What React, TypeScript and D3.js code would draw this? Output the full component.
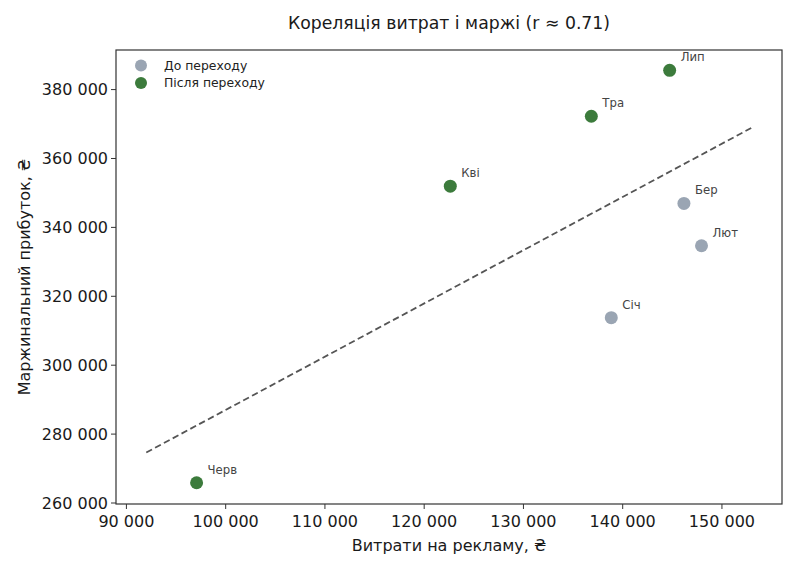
import React from "react";
import * as d3 from "d3";

// monthly points: ad spend vs margin
const months = ["Січ", "Лют", "Бер", "Кві", "Тра", "Лип", "Черв"];
const spend = [138850, 147940, 146170, 122630, 136840, 144730, 97070];
const margin = [313800, 334670, 346960, 351970, 372260, 385600, 265880];
const phase = ["before", "before", "before", "after", "after", "after", "after"];
const xTicks = [90000, 100000, 110000, 120000, 130000, 140000, 150000];
const yTicks = [260000, 280000, 300000, 320000, 340000, 360000, 380000];
const trendRange = [92000, 153000];

const W = 800;
const H = 571;
const m = { top: 50, right: 18, bottom: 67, left: 116 };
const font = "DejaVu Sans, sans-serif";
const colors: Record<string, string> = { before: "#9aa5b3", after: "#3c7b3c" };

const fmt = (v: number) => d3.format(",")(v).replace(/,/g, " ");

export default function App() {
  const x = d3.scaleLinear().domain([88950, 156050]).range([m.left, W - m.right]);
  const y = d3.scaleLinear().domain([259710, 391490]).range([H - m.bottom, m.top]);

  // least squares fit
  const mx = d3.mean(spend) as number;
  const my = d3.mean(margin) as number;
  const sxy = d3.sum(spend, (v, i) => (v - mx) * (margin[i] - my));
  const sxx = d3.sum(spend, (v) => (v - mx) ** 2);
  const slope = sxy / sxx;
  const fit = (v: number) => my + slope * (v - mx);
  const line = d3
    .line<number>()
    .x((v) => x(v))
    .y((v) => y(fit(v)));

  const bottom = H - m.bottom;

  return (
    <svg width={W} height={H} style={{ position: "absolute", left: 0, top: 0 }} fontFamily={font}>
      <rect width={W} height={H} fill="#fff" />
      <text x={(m.left + W - m.right) / 2} y={29} textAnchor="middle" fontSize={17.3} fill="#1a1a1a">
        Кореляція витрат і маржі (r ≈ 0.71)
      </text>

      <path d={line(trendRange) || ""} fill="none" stroke="#555" strokeWidth={1.8} strokeDasharray="6.5,3.5" />

      {months.map((mo, i) => (
        <g key={mo}>
          <circle cx={x(spend[i])} cy={y(margin[i])} r={6.5} fill={colors[phase[i]]} />
          <text x={x(spend[i]) + 11} y={y(margin[i]) - 9} fontSize={11.7} fill="#444">
            {mo}
          </text>
        </g>
      ))}

      <rect
        x={m.left}
        y={m.top}
        width={W - m.left - m.right}
        height={H - m.top - m.bottom}
        fill="none"
        stroke="#333"
        strokeWidth={1.2}
      />

      {xTicks.map((t) => (
        <g key={t}>
          <line x1={x(t)} x2={x(t)} y1={bottom} y2={bottom + 5} stroke="#333" />
          <text x={x(t)} y={bottom + 23} textAnchor="middle" fontSize={16} fill="#1a1a1a">
            {fmt(t)}
          </text>
        </g>
      ))}
      {yTicks.map((t) => (
        <g key={t}>
          <line x1={m.left - 5} x2={m.left} y1={y(t)} y2={y(t)} stroke="#333" />
          <text x={m.left - 8} y={y(t) + 5.5} textAnchor="end" fontSize={16} fill="#1a1a1a">
            {fmt(t)}
          </text>
        </g>
      ))}

      <text x={(m.left + W - m.right) / 2} y={551} textAnchor="middle" fontSize={16} fill="#1a1a1a">
        Витрати на рекламу, ₴
      </text>
      <text
        transform={`translate(30, ${(m.top + bottom) / 2}) rotate(-90)`}
        textAnchor="middle"
        fontSize={16}
        fill="#1a1a1a"
      >
        Маржинальний прибуток, ₴
      </text>

      <g>
        <circle cx={141} cy={65.5} r={6} fill={colors.before} />
        <text x={164} y={69.5} fontSize={12.4} fill="#222">
          До переходу
        </text>
        <circle cx={141} cy={83} r={6} fill={colors.after} />
        <text x={164} y={87} fontSize={12.4} fill="#222">
          Після переходу
        </text>
      </g>
    </svg>
  );
}
